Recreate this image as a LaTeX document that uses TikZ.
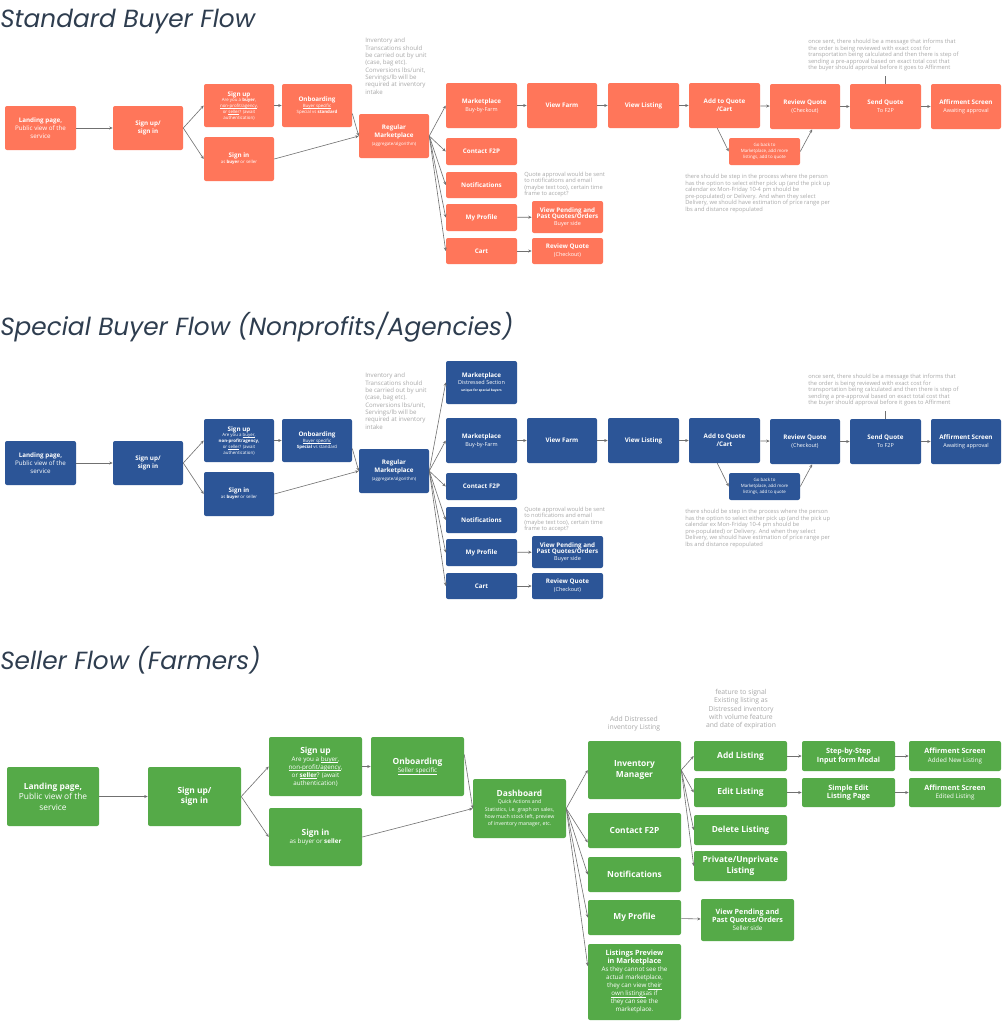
\documentclass[tikz,border=0pt]{standalone}
\usepackage{fontspec}
\setmainfont{Open Sans}
\newfontfamily\titlefont{Poppins}
\usetikzlibrary{arrows.meta}
\definecolor{org}{HTML}{FF765A}
\definecolor{blu}{HTML}{2C5597}
\definecolor{grn}{HTML}{55AA48}
\definecolor{notegray}{HTML}{A8A8A8}
\definecolor{linegray}{HTML}{707070}
\definecolor{titlecol}{HTML}{2E3D4F}
\newcommand\szA{\fontsize{4.7}{6}\selectfont}
\newcommand\szB{\fontsize{4.1}{5}\selectfont}
\newcommand\szC{\fontsize{3.3}{4.3}\selectfont}
\newcommand\szT{\fontsize{2.4}{3}\selectfont}
\newcommand\szD{\fontsize{6.3}{7.9}\selectfont}
\newcommand\szE{\fontsize{4.7}{6}\selectfont}
\newcommand\szF{\fontsize{3.9}{5.4}\selectfont}
\newcommand\szG{\fontsize{5.4}{6.4}\selectfont}
\newcommand\szN{\fontsize{4.3}{4.9}\selectfont}
\newcommand\uln[1]{\setbox0\hbox{#1}\leavevmode\rlap{\lower0.13em\hbox{\vrule width\wd0 height 0pt depth 0.05em}}\box0}
\tikzset{
  bx/.style={rounded corners=1.5pt, text=white, align=center, inner sep=0pt, draw=none},
  conn/.style={draw=linegray, line width=0.45pt, -{Stealth[length=2.6pt,width=2.2pt]}},
  plain/.style={draw=linegray, line width=0.6pt},
  note/.style={text=notegray, align=left, inner sep=0pt, anchor=north west},
  cnote/.style={text=notegray, align=center, inner sep=0pt, anchor=north},
  ttl/.style={text=titlecol, anchor=base west, inner sep=0pt, font=\titlefont\itshape\fontsize{18.6}{21}\selectfont},
}
\newcommand\bx[7]{\node[bx,#1, minimum width={(#5-#3)*0.75pt}, minimum height={(#6-#4)*0.75pt}] (#2) at ({(#3+#5)/2},{(#4+#6)/2}) {#7};}
\newcommand\buyerflow[4]{%
  \bx{fill=#2,font=\szA}{#1land}{5}{106}{76}{150}{\textbf{Landing page,}\\Public view of the\\service}
  \bx{fill=#2,font=\szA}{#1sus}{113}{106}{183}{150}{\textbf{Sign up/}\\\textbf{sign in}}
  \bx{fill=#2,font=\szC}{#1signup}{204}{84}{274}{127}{#3}
  \bx{fill=#2,font=\szC}{#1onb}{282}{84}{352}{127}{#4}
  \bx{fill=#2,font=\szC}{#1signin}{204}{137}{274}{181}{{\szA\textbf{Sign in}}\\as \textbf{buyer} or seller}
  \bx{fill=#2,font=\szA}{#1reg}{359}{114}{429}{158}{\textbf{Regular}\\\textbf{Marketplace}\\{\szC(aggregate/algorithm)}}
  \bx{fill=#2,font=\szA}{#1mkt}{446}{83}{517}{128}{\textbf{Marketplace}\\{\szB Buy-by-Farm}}
  \bx{fill=#2,font=\szA}{#1vfarm}{527}{83}{597}{128}{\textbf{View Farm}}
  \bx{fill=#2,font=\szA}{#1vlist}{608}{83}{679}{128}{\textbf{View Listing}}
  \bx{fill=#2,font=\szA}{#1addq}{689}{83}{760}{128}{\textbf{Add to Quote}\\\textbf{/Cart}}
  \bx{fill=#2,font=\szA}{#1revq}{770}{84}{840}{129}{\textbf{Review Quote}\\{\szB(Checkout)}}
  \bx{fill=#2,font=\szA}{#1sendq}{850}{84}{921}{129}{\textbf{Send Quote}\\{\szB To F2P}}
  \bx{fill=#2,font=\szA}{#1aff}{931}{84}{1001}{129}{\textbf{Affirment Screen}\\{\szB Awaiting approval}}
  \bx{fill=#2,font=\szC}{#1goback}{729}{138}{800}{165}{Go back to\\Marketplace, add more\\listings, add to quote}
  \bx{fill=#2,font=\szA}{#1contact}{446}{138}{517}{165}{\textbf{Contact F2P}}
  \bx{fill=#2,font=\szA}{#1notif}{446}{172}{517}{198}{\textbf{Notifications}}
  \bx{fill=#2,font=\szA}{#1prof}{446}{204}{517}{231}{\textbf{My Profile}}
  \bx{fill=#2,font=\szA}{#1cart}{446}{238}{517}{264}{\textbf{Cart}}
  \bx{fill=#2,font=\szB}{#1vpend}{532}{201}{603}{233}{{\szA\textbf{View Pending and}}\\{\szA\textbf{Past Quotes/Orders}}\\Buyer side}
  \bx{fill=#2,font=\szA}{#1revqb}{532}{238}{603}{264}{\textbf{Review Quote}\\{\szB(Checkout)}}
  \node[note, font=\fontsize{4.6}{5.5}\selectfont] (#1n1) at (365,38) {Inventory and\\Transcations should\\be carried out by unit\\(case, bag etc).\\Conversions lbs/unit,\\Servings/lb will be\\required at inventory\\intake};
  \node[note, font=\fontsize{4.3}{4.75}\selectfont] (#1n2) at (524,172) {Quote approval would be sent\\to notifications and email\\(maybe text too), certain time\\frame to accept?};
  \node[note, font=\szN] (#1n3) at (808,39) {once sent, there should be a message that informs that\\the order is being reviewed with exact cost for\\transportation being calculated and then there is step of\\sending a pre-approval based on exact total cost that\\the buyer should approval before it goes to Affirment};
  \node[note, font=\szN] (#1n4) at (685,174) {there should be step in the process where the person\\has the option to select either pick up (and the pick up\\calendar ex Mon-Friday 10-4 pm should be\\pre-populated) or Delivery. And when they select\\Delivery, we should have estimation of price range per\\lbs and distance repopulated};
  \draw[conn] (#1land) -- (#1sus);
  \draw[conn] (#1sus.east) -- (#1signup.west);
  \draw[conn] (#1sus.east) -- (#1signin.west);
  \draw[conn] (#1signup) -- (#1onb);
  \draw[conn] ([yshift=-6pt]#1onb.east) -- (#1reg.west);
  \draw[conn] (#1signin.east) -- (#1reg.west);
  \foreach \t in {mkt,contact,notif,prof,cart} {\draw[conn] (#1reg.east) -- (#1\t.west);}
  \draw[conn] (#1mkt) -- (#1vfarm);
  \draw[conn] (#1vfarm) -- (#1vlist);
  \draw[conn] (#1vlist) -- (#1addq);
  \draw[conn] (#1addq) -- (#1revq);
  \draw[conn] (#1revq) -- (#1sendq);
  \draw[conn] (#1sendq) -- (#1aff);
  \draw[conn] (#1prof) -- (#1vpend);
  \draw[conn] (#1cart) -- (#1revqb);
  \draw[conn] ([xshift=-5.4pt]#1addq.south) -- (#1goback.west);
  \draw[conn] (#1goback.east) -- ([xshift=5.4pt]#1revq.south);
  \coordinate (#1tick) at ([yshift=5.5pt]#1sendq.north);
  \draw[plain] (#1sendq.north) -- (#1tick);
}
\begin{document}
\begin{tikzpicture}[x=0.75pt,y=-0.75pt]
\fill[white] (0,0) rectangle (1002,1022);
\useasboundingbox (0,0) rectangle (1002,1022);
% titles
\node[ttl] (t1) at (0,27) {Standard Buyer Flow};
\node[ttl] (t2) at (0,335) {Special Buyer Flow (Nonprofits/Agencies)};
\node[ttl] (t3) at (0,669) {Seller Flow (Farmers)};
% standard
\buyerflow{s}{org}{{\szA\textbf{Sign up}}\\Are you a \textbf{buyer},\\\uln{non-profit/agency},\\or \uln{seller}? (await\\authentication)}{{\szA\textbf{Onboarding}}\\\uln{Buyer specific}\\Special vs \textbf{standard}}
% special
\begin{scope}[shift={(0,335)}]
\buyerflow{p}{blu}{{\szA\textbf{Sign up}}\\Are you a \uln{buyer},\\\textbf{non-profit/agency,}\\or \uln{seller}? (await\\authentication)}{{\szA\textbf{Onboarding}}\\\uln{Buyer specific}\\\textbf{Special} vs standard}
\bx{fill=blu,font=\szB}{pdist}{446}{26}{517}{69}{{\szA\textbf{Marketplace}}\\Distressed Section\\{\szT\textbf{unique for special buyers}}}
\draw[conn] (preg.east) -- (pdist.west);
\end{scope}
% seller
\bx{fill=grn,font=\szD}{gland}{7}{767}{99}{826}{\textbf{Landing page,}\\Public view of the\\service}
\bx{fill=grn,font=\szD}{gsus}{148}{767}{241}{826}{\textbf{Sign up/}\\\textbf{sign in}}
\bx{fill=grn,font=\szE}{gsignup}{269}{737}{362}{796}{{\szD\textbf{Sign up}}\\Are you a \uln{buyer},\\\uln{non-profit/agency},\\or \uln{\textbf{seller}}? (await\\authentication)}
\bx{fill=grn,font=\szE}{gonb}{371}{737}{464}{796}{{\szD\textbf{Onboarding}}\\\uln{Seller specific}}
\bx{fill=grn,font=\szE}{gsignin}{269}{808}{362}{866}{{\szD\textbf{Sign in}}\\as buyer or \textbf{seller}}
\bx{fill=grn,font=\szF}{gdash}{473}{779}{566}{838}{{\szD\textbf{Dashboard}}\\Quick Actions and\\Statistics, i.e. graph on sales,\\how much stock left, preview\\of inventory manager, etc.}
\bx{fill=grn,font=\szD}{ginv}{588}{741}{681}{799}{\textbf{Inventory}\\\textbf{Manager}}
\bx{fill=grn,font=\szD}{gcontact}{588}{813}{681}{848}{\textbf{Contact F2P}}
\bx{fill=grn,font=\szD}{gnotif}{588}{857}{681}{892}{\textbf{Notifications}}
\bx{fill=grn,font=\szD}{gprof}{588}{900}{681}{935}{\textbf{My Profile}}
\bx{fill=grn,font=\szE}{glprev}{588}{944}{681}{1020}{{\szG\textbf{Listings Preview}}\\{\szG\textbf{in Marketplace}}\\As they cannot see the\\actual marketplace,\\they can view \uln{their}\\\uln{own listings} as if\\they can see the\\marketplace.}
\bx{fill=grn,font=\szD}{gadd}{694}{741}{787}{771}{\textbf{Add Listing}}
\bx{fill=grn,font=\szD}{gedit}{694}{778}{787}{807}{\textbf{Edit Listing}}
\bx{fill=grn,font=\szD}{gdel}{694}{815}{787}{845}{\textbf{Delete Listing}}
\bx{fill=grn,font=\szD}{gpriv}{694}{851}{787}{881}{\textbf{Private/Unprivate}\\\textbf{Listing}}
\bx{fill=grn,font=\szE}{gvpend}{701}{899}{794}{941}{{\szG\textbf{View Pending and}}\\{\szG\textbf{Past Quotes/Orders}}\\Seller side}
\bx{fill=grn,font=\szG}{gstep}{802}{741}{895}{771}{\textbf{Step-by-Step}\\\textbf{Input form Modal}}
\bx{fill=grn,font=\szG}{gaff1}{909}{741}{1001}{771}{\textbf{Affirment Screen}\\{\szE Added New Listing}}
\bx{fill=grn,font=\szG}{gsimple}{802}{778}{895}{807}{\textbf{Simple Edit}\\\textbf{Listing Page}}
\bx{fill=grn,font=\szG}{gaff2}{909}{778}{1001}{807}{\textbf{Affirment Screen}\\{\szE Edited Listing}}
\node[cnote, font=\fontsize{5.1}{6.2}\selectfont] (gn1) at (634,716) {Add Distressed\\inventory Listing};
\node[cnote, font=\fontsize{5.1}{6.2}\selectfont] (gn2) at (741,689) {feature to signal\\Existing listing as\\Distressed inventory\\with volume feature\\and date of expiration};
\draw[conn] (gland) -- (gsus);
\draw[conn] (gsus.east) -- (gsignup.west);
\draw[conn] (gsus.east) -- (gsignin.west);
\draw[conn] (gsignup) -- (gonb);
\draw[conn] ([yshift=9pt]gonb.east) -- (gdash.west);
\draw[conn] (gsignin.east) -- (gdash.west);
\draw[conn] (gdash.east) -- (ginv.west);
\draw[conn] (gdash.east) -- ([yshift=-9pt]gcontact.west);
\draw[conn] (gdash.east) -- (gnotif.west);
\draw[conn] (gdash.east) -- (gprof.west);
\draw[conn] (gdash.east) -- ([yshift=12pt]glprev.west);
\draw[conn] (ginv.east) -- (gadd.west);
\draw[conn] (ginv.east) -- (gedit.west);
\draw[conn] (ginv.east) -- (gdel.west);
\draw[conn] (ginv.east) -- (gpriv.west);
\draw[conn] (gadd) -- (gstep);
\draw[conn] (gstep) -- (gaff1);
\draw[conn] (gedit) -- (gsimple);
\draw[conn] (gsimple) -- (gaff2);
\draw[conn] (gprof) -- (gvpend);
\end{tikzpicture}
\end{document}
